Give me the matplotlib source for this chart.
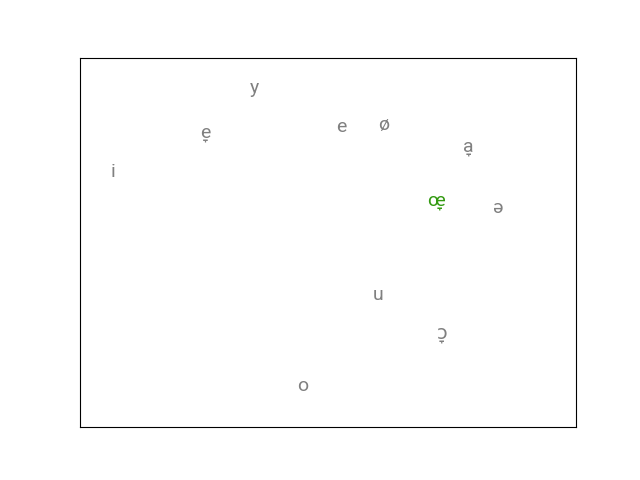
import matplotlib
matplotlib.use('Agg')
import matplotlib.pyplot as plt

plt.rcParams['font.family'] = ['Roboto', 'DejaVu Sans']

# vowel symbols and their positions (axes fraction)
vowels = ['i', 'e\u031e', 'y', 'e', '\u00f8', 'a\u031e', '\u0153\u031e', '\u0259', 'u', '\u0254\u031e', 'o']
x_pos = [0.067, 0.252, 0.351, 0.526, 0.613, 0.782, 0.718, 0.843, 0.601, 0.730, 0.448]
y_pos = [0.691, 0.797, 0.919, 0.813, 0.818, 0.759, 0.612, 0.593, 0.358, 0.252, 0.111]
highlight = '\u0153\u031e'

fig, ax = plt.subplots(figsize=(6.4, 4.8), dpi=100)
for v, x, y in zip(vowels, x_pos, y_pos):
    color = '#339a11' if v == highlight else 'gray'
    ax.text(x, y, v, color=color, fontsize=14, ha='center', va='center')

ax.set_xlim(0, 1)
ax.set_ylim(0, 1)
ax.set_xticks([])
ax.set_yticks([])

plt.savefig('out.png')
